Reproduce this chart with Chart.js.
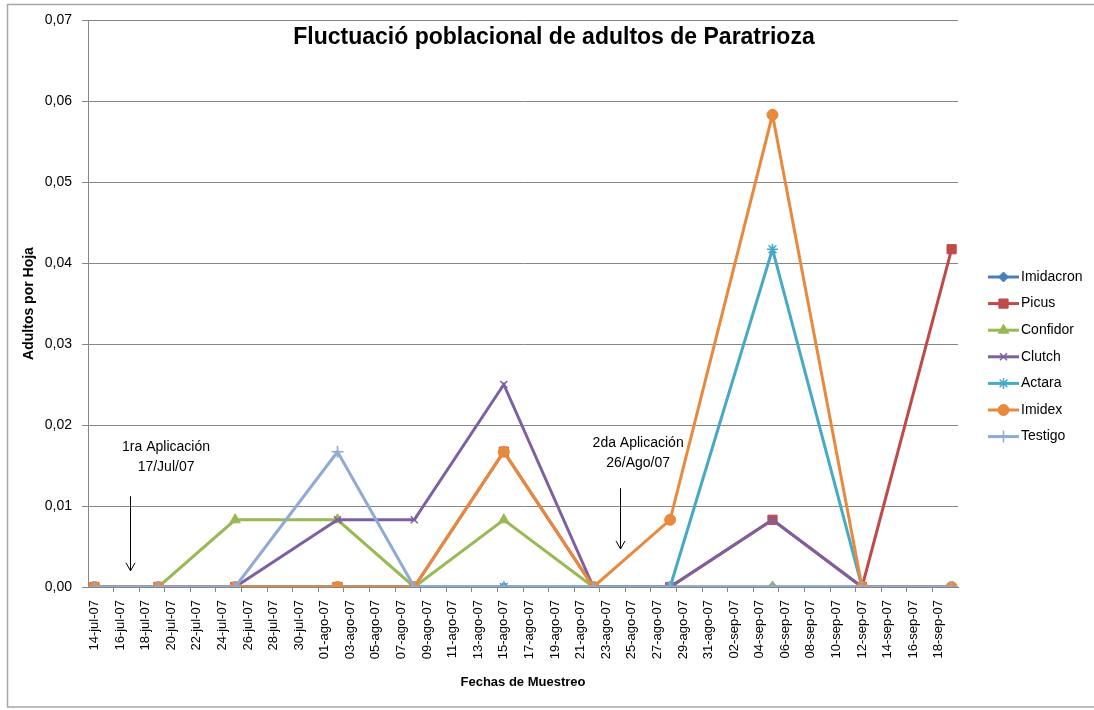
<!DOCTYPE html>
<html>
<head>
<meta charset="utf-8">
<script src="https://cdn.jsdelivr.net/npm/chart.js@4.4.1/dist/chart.umd.min.js"></script>
<style>
  html, body { margin: 0; padding: 0; background: #ffffff; }
  #wrap { width: 1094px; height: 710px; position: relative; }
</style>
</head>
<body>
<div id="wrap"><canvas id="c"></canvas></div>
<script>
// ---- data ----
const sampleDates = ['14-jul-07','19-jul-07','25-jul-07','02-ago-07','08-ago-07','15-ago-07',
                     '22-ago-07','28-ago-07','05-sep-07','12-sep-07','19-sep-07'];

const imidacron = [0, 0, 0, 0, 0, 0, 0, 0, 0, 0, 0];
const picus     = [0, 0, 0, 0, 0, 0.0167, 0, 0, 0.0083, 0, 0.0417];
const confidor  = [0, 0, 0.0083, 0.0083, 0, 0.0083, 0, 0, 0, 0, 0];
const clutch    = [0, 0, 0, 0.0083, 0.0083, 0.025, 0, 0, 0.0083, 0, 0];
const actara    = [0, 0, 0, 0, 0, 0, 0, 0, 0.0417, 0, 0];
const imidex    = [0, 0, 0, 0, 0, 0.0167, 0, 0.0083, 0.0583, 0, 0];
const testigo   = [0, 0, 0, 0.0167, 0, 0, 0, 0, 0, 0, 0];

const seriesNames = ['Imidacron','Picus','Confidor','Clutch','Actara','Imidex','Testigo'];

const tickLabels = ['14-jul-07','16-jul-07','18-jul-07','20-jul-07','22-jul-07','24-jul-07','26-jul-07',
  '28-jul-07','30-jul-07','01-ago-07','03-ago-07','05-ago-07','07-ago-07','09-ago-07','11-ago-07',
  '13-ago-07','15-ago-07','17-ago-07','19-ago-07','21-ago-07','23-ago-07','25-ago-07','27-ago-07',
  '29-ago-07','31-ago-07','02-sep-07','04-sep-07','06-sep-07','08-sep-07','10-sep-07','12-sep-07',
  '14-sep-07','16-sep-07','18-sep-07'];

const yTicks = [0, 0.01, 0.02, 0.03, 0.04, 0.05, 0.06, 0.07];

const annotations = [
  { lines: ['1ra Aplicación', '17/Jul/07'] },
  { lines: ['2da Aplicación', '26/Ago/07'] }
];

// ---- helpers ----
const monthIdx = { jul: 6, ago: 7, sep: 8 };
function toDay(s) {
  const [d, m, y] = s.split('-');
  const t = Date.UTC(2000 + parseInt(y, 10), monthIdx[m], parseInt(d, 10));
  const t0 = Date.UTC(2007, 6, 14);
  return Math.round((t - t0) / 86400000);
}
const FONT = '"Liberation Sans", Arial, sans-serif';
const GRAY = '#868686';

const styles = [
  { color: '#4A7EBB', point: 'rectRot',  r: 5,   bw: 1 },
  { color: '#BE4B48', point: 'rect',     r: 6.5, bw: 1 },
  { color: '#98B954', point: 'triangle', r: 6,   bw: 1 },
  { color: '#7D60A0', point: 'crossRot', r: 5,   bw: 1.5 },
  { color: '#46AAC5', point: 'star',     r: 5.5, bw: 1.5 },
  { color: '#E8893D', point: 'circle',   r: 5.5, bw: 1 },
  { color: '#8FAAD3', point: 'cross',    r: 6,   bw: 1.5 }
];
const allValues = [imidacron, picus, confidor, clutch, actara, imidex, testigo];

const datasets = allValues.map((vals, i) => ({
  label: seriesNames[i],
  data: sampleDates.map((d, k) => ({ x: toDay(d), y: vals[k] })),
  borderColor: styles[i].color,
  backgroundColor: styles[i].color,
  pointBackgroundColor: styles[i].color,
  pointBorderColor: styles[i].color,
  pointStyle: styles[i].point,
  pointRadius: styles[i].r,
  pointBorderWidth: styles[i].bw,
  borderWidth: 3,
  tension: 0,
  fill: false,
  order: allValues.length - i
}));

// ---- plugins ----
const framePlugin = {
  id: 'frame',
  beforeDraw(chart) {
    const ctx = chart.ctx;
    ctx.save();
    ctx.fillStyle = '#ffffff';
    ctx.fillRect(0, 0, chart.width, chart.height);
    ctx.strokeStyle = '#A6A6A6';
    ctx.lineWidth = 1.5;
    ctx.strokeRect(7.5, 4.5, chart.width + 10, 702.5);
    ctx.restore();
  }
};

const titlePlugin = {
  id: 'innerTitle',
  afterDatasetsDraw(chart) {
    const { ctx, chartArea } = chart;
    ctx.save();
    ctx.font = 'bold 23px ' + FONT;
    ctx.fillStyle = '#000';
    ctx.textAlign = 'center';
    ctx.textBaseline = 'middle';
    ctx.fillText('Fluctuació poblacional de adultos de Paratrioza', 554, chartArea.top + 18);
    ctx.restore();
  }
};

const annotPlugin = {
  id: 'annot',
  afterDatasetsDraw(chart) {
    const { ctx } = chart;
    const xs = chart.scales.x, ys = chart.scales.y;
    ctx.save();
    ctx.font = '14px ' + FONT;
    ctx.fillStyle = '#000';
    ctx.textAlign = 'center';
    ctx.textBaseline = 'middle';
    const cfg = [
      { tx: 5.6, ty: 0.0173, ax: 2.8, ay1: 0.0112, ay2: 0.0020 },
      { tx: 42.5, ty: 0.0178, ax: 41.05, ay1: 0.0122, ay2: 0.0047 }
    ];
    annotations.forEach((a, i) => {
      const c = cfg[i];
      const x = xs.getPixelForValue(c.tx);
      const y = ys.getPixelForValue(c.ty);
      ctx.fillText(a.lines[0], x, y);
      ctx.fillText(a.lines[1], x, y + 20);
      const axp = Math.round(xs.getPixelForValue(c.ax)) + 0.5;
      const y1 = ys.getPixelForValue(c.ay1), y2 = ys.getPixelForValue(c.ay2);
      ctx.strokeStyle = '#000';
      ctx.lineWidth = 1;
      ctx.beginPath();
      ctx.moveTo(axp, y1);
      ctx.lineTo(axp, y2);
      ctx.moveTo(axp - 4.5, y2 - 8);
      ctx.lineTo(axp, y2);
      ctx.lineTo(axp + 4.5, y2 - 8);
      ctx.stroke();
    });
    ctx.restore();
  }
};

const legendPlugin = {
  id: 'customLegend',
  afterDraw(chart) {
    const { ctx, chartArea } = chart;
    ctx.save();
    const x0 = chartArea.right + 30, x1 = x0 + 31;
    const yStart = 277, step = 26.6;
    chart.data.datasets.forEach((ds, i) => {
      const y = yStart + i * step;
      ctx.strokeStyle = ds.borderColor;
      ctx.lineWidth = 3;
      ctx.beginPath();
      ctx.moveTo(x0, y);
      ctx.lineTo(x1, y);
      ctx.stroke();
      ctx.fillStyle = ds.pointBackgroundColor;
      ctx.strokeStyle = ds.pointBorderColor;
      ctx.lineWidth = ds.pointBorderWidth;
      Chart.helpers.drawPoint(ctx, { pointStyle: ds.pointStyle, radius: ds.pointRadius, rotation: 0, borderWidth: ds.pointBorderWidth }, (x0 + x1) / 2, y);
      ctx.fillStyle = '#000';
      ctx.font = '14px ' + FONT;
      ctx.textAlign = 'left';
      ctx.textBaseline = 'middle';
      ctx.fillText(ds.label, x1 + 2, y);
    });
    ctx.restore();
  }
};

const chart = new Chart(document.getElementById('c'), {
  type: 'line',
  data: { datasets },
  options: {
    responsive: true,
    maintainAspectRatio: false,
    animation: false,
    layout: { padding: { left: 0, right: 136, top: 20, bottom: 0 } },
    plugins: {
      legend: { display: false },
      tooltip: { enabled: false },
      title: { display: false }
    },
    scales: {
      x: {
        type: 'linear',
        min: -0.5,
        max: 67.5,
        afterBuildTicks(scale) {
          const t = [];
          for (let d = 0; d < 68; d++) t.push({ value: d });
          scale.ticks = t;
        },
        afterFit(scale) { scale.height = 123; },
        ticks: {
          autoSkip: false,
          minRotation: 90,
          maxRotation: 90,
          padding: 8,
          color: '#000',
          font: { family: FONT, size: 13 },
          callback(value) {
            return (value % 2 === 0) ? tickLabels[value / 2] : '';
          }
        },
        grid: {
          offset: true,
          drawOnChartArea: false,
          drawTicks: true,
          tickLength: 5,
          tickColor: (ctx) => (ctx.index !== undefined && ctx.index > 0 && ctx.index % 2 === 0) ? GRAY : 'rgba(0,0,0,0)',
          color: 'rgba(0,0,0,0)'
        },
        border: { display: true, color: GRAY, width: 1 },
        title: {
          display: true,
          text: 'Fechas de Muestreo',
          color: '#000',
          font: { family: FONT, size: 13, weight: 'bold' },
          padding: { top: 0, bottom: 20 }
        }
      },
      y: {
        min: 0,
        max: 0.07,
        afterBuildTicks(scale) { scale.ticks = yTicks.map(v => ({ value: v })); },
        afterFit(scale) { scale.width = 88; },
        ticks: {
          padding: 10,
          color: '#000',
          font: { family: FONT, size: 14 },
          callback(value) { return value.toFixed(2).replace('.', ','); }
        },
        grid: {
          color: GRAY,
          lineWidth: 1,
          tickLength: 6,
          drawTicks: true
        },
        border: { display: true, color: GRAY, width: 1 },
        title: {
          display: true,
          text: 'Adultos por Hoja',
          color: '#000',
          font: { family: FONT, size: 14, weight: 'bold' },
          padding: { top: 21, bottom: 0 }
        }
      }
    }
  },
  plugins: [framePlugin, titlePlugin, annotPlugin, legendPlugin]
});
</script>
</body>
</html>
